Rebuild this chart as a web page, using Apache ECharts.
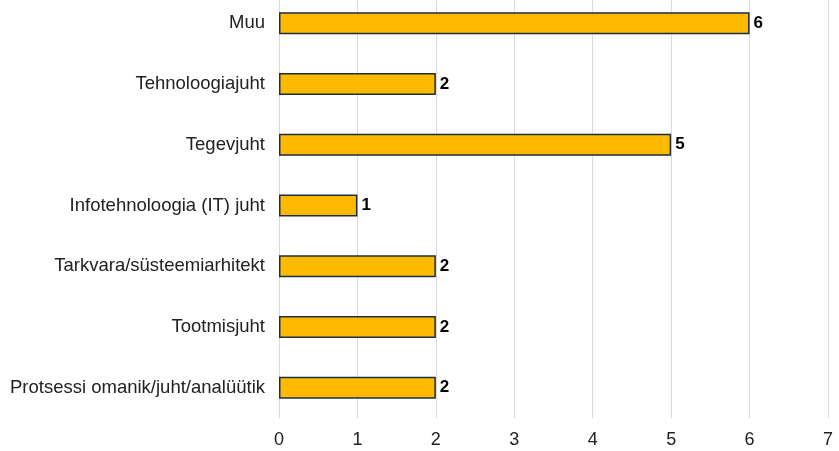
<!DOCTYPE html>
<html>
<head>
<meta charset="utf-8">
<script src="https://cdn.jsdelivr.net/npm/echarts@6/dist/echarts.min.js"></script>
<style>
  html, body { margin: 0; padding: 0; background: #ffffff; overflow: hidden; }
  #chart { width: 839px; height: 458px; margin-top: -7px; }
</style>
</head>
<body>
<div id="chart"></div>
<script>
// Roles, listed top to bottom
const categories = [
  'Muu',
  'Tehnoloogiajuht',
  'Tegevjuht',
  'Infotehnoloogia (IT) juht',
  'Tarkvara/süsteemiarhitekt',
  'Tootmisjuht',
  'Protsessi omanik/juht/analüütik'
];
const counts = [6, 2, 5, 1, 2, 2, 2];
const axisTicks = [0, 1, 2, 3, 4, 5, 6, 7];

const font = 'Liberation Sans, Arial, sans-serif';
const chart = echarts.init(document.getElementById('chart'));
chart.setOption({
  animation: false,
  grid: { left: 279, right: 11, top: 0, bottom: 33, containLabel: false },
  xAxis: {
    type: 'value',
    min: axisTicks[0],
    max: axisTicks[axisTicks.length - 1],
    interval: 1,
    axisLine: { show: false },
    axisTick: { show: false },
    axisLabel: { margin: 13, fontFamily: font, fontSize: 18, color: '#222222' },
    splitLine: { show: true, lineStyle: { color: '#d9d9d9', width: 1 } }
  },
  yAxis: {
    type: 'category',
    inverse: true,
    data: categories,
    axisLine: { show: false },
    axisTick: { show: false },
    axisLabel: { margin: 14, fontFamily: font, fontSize: 18.5, color: '#222222' }
  },
  series: [{
    type: 'bar',
    data: counts,
    barWidth: 22,
    itemStyle: { color: '#FFBA00', borderColor: '#1c2e45', borderWidth: 1.5 },
    label: {
      show: true,
      position: 'right',
      distance: 4,
      fontFamily: font,
      fontSize: 17,
      fontWeight: 'bold',
      color: '#000000'
    }
  }]
});
</script>
</body>
</html>
